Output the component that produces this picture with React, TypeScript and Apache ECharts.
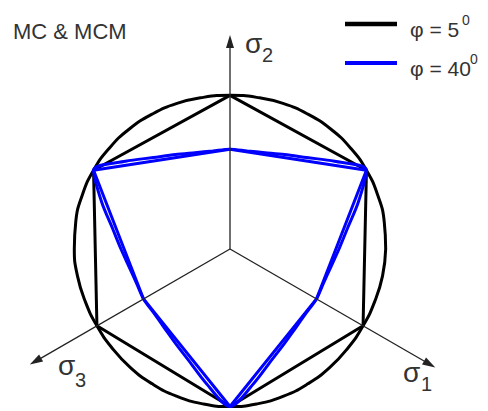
import React, { useEffect, useRef } from "react";
import * as echarts from "echarts";

const FONT = '"Liberation Sans", Arial, Helvetica, sans-serif';
const TEXT_COLOR = "#333";

// Yield-surface vertices in the deviatoric plane (angle in degrees, CCW from east)
const vertexAngles = [90, 150, 210, 270, 330, 30, 90];
const mc5Radii = [0.985, 1.01, 0.985, 1.01, 0.985, 1.01, 0.985];
const mc40Radii = [0.64, 1.01, 0.64, 1.01, 0.64, 1.01, 0.64];

// Smooth (MCM) surfaces sampled every 10 degrees
const mcmAngles = [
  0, 10, 20, 30, 40, 50, 60, 70, 80, 90, 100, 110, 120, 130, 140, 150, 160, 170,
  180, 190, 200, 210, 220, 230, 240, 250, 260, 270, 280, 290, 300, 310, 320, 330,
  340, 350, 360,
];
const mcm5Radii = [
  0.998, 1.004, 1.008, 1.01, 1.008, 1.004, 0.998, 0.993, 0.987, 0.985, 0.987,
  0.993, 0.998, 1.004, 1.008, 1.01, 1.008, 1.004, 0.998, 0.993, 0.987, 0.985,
  0.987, 0.993, 0.998, 1.004, 1.008, 1.01, 1.008, 1.004, 0.998, 0.993, 0.987,
  0.985, 0.987, 0.993, 0.998,
];
const mcm40Radii = [
  0.699, 0.765, 0.875, 1.01, 0.875, 0.765, 0.699, 0.657, 0.638, 0.64, 0.638,
  0.657, 0.699, 0.765, 0.875, 1.01, 0.875, 0.765, 0.699, 0.657, 0.638, 0.64,
  0.638, 0.657, 0.699, 0.765, 0.875, 1.01, 0.875, 0.765, 0.699, 0.657, 0.638,
  0.64, 0.638, 0.657, 0.699,
];

// Principal stress axes: direction and length
const axisAngles = [330, 90, 210];
const axisLengths = [1.478, 1.33, 1.44];
const axisSubscripts = ["1", "2", "3"];

const legendNames = ["φ = 5", "φ = 40"];
const legendColors = ["#000000", "#0000ff"];

const toPolar = (radii: number[], angles: number[]) =>
  radii.map((r, i) => [r, angles[i]]);

// place text by its alphabetic baseline
const txt = (
  text: string,
  x: number,
  baseline: number,
  size: number,
  color = TEXT_COLOR
) => ({
  type: "text",
  x,
  y: baseline - 0.35 * size,
  silent: true,
  style: {
    text,
    fill: color,
    font: `${size}px ${FONT}`,
    align: "left",
    verticalAlign: "middle",
  },
});

export default function App() {
  const ref = useRef<HTMLDivElement>(null);

  useEffect(() => {
    if (!ref.current) return;
    const chart = echarts.init(ref.current, undefined, { renderer: "svg" });

    const surface = (
      name: string,
      data: number[][],
      color: string,
      smooth: number | boolean,
      z: number
    ) => ({
      type: "line",
      name,
      coordinateSystem: "polar",
      data,
      smooth,
      symbol: "none",
      clip: false,
      silent: true,
      z,
      lineStyle: { color, width: 3 },
    });

    const axisSeries = axisAngles.map((a, i) => ({
      type: "line",
      name: "σ" + axisSubscripts[i],
      coordinateSystem: "polar",
      clip: false,
      silent: true,
      z: 10,
      showSymbol: true,
      symbol: "none",
      lineStyle: { color: "#222", width: 1.3 },
      itemStyle: { color: "#222" },
      data: [
        { value: [0, a], symbol: "none" },
        {
          value: [axisLengths[i], a],
          symbol: "triangle",
          symbolSize: [8, 13],
          symbolRotate: a - 90,
        },
      ],
    }));

    const rm = 1.6;
    chart.setOption({
      animation: false,
      polar: { center: [230, 249], radius: 156 * rm },
      angleAxis: {
        type: "value",
        min: 0,
        max: 360,
        startAngle: 0,
        clockwise: false,
        axisLine: { show: false },
        axisTick: { show: false },
        axisLabel: { show: false },
        splitLine: { show: false },
      },
      radiusAxis: {
        type: "value",
        min: 0,
        max: rm,
        axisLine: { show: false },
        axisTick: { show: false },
        axisLabel: { show: false },
        splitLine: { show: false },
      },
      series: [
        surface(legendNames[0], toPolar(mcm5Radii, mcmAngles), legendColors[0], 0.5, 2),
        surface(legendNames[0], toPolar(mc5Radii, vertexAngles), legendColors[0], false, 2),
        surface(legendNames[1], toPolar(mc40Radii, vertexAngles), legendColors[1], false, 3),
        surface(legendNames[1], toPolar(mcm40Radii, mcmAngles), legendColors[1], 0.3, 3),
        ...axisSeries,
      ],
      graphic: [
        txt("MC & MCM", 13, 39, 22),
        // axis labels
        txt("σ", 245, 53, 28),
        txt("2", 262, 62, 20),
        txt("σ", 403, 382, 28),
        txt("1", 421, 391, 20),
        txt("σ", 58, 375, 28),
        txt("3", 75, 387, 20),
        // legend
        {
          type: "line",
          silent: true,
          shape: { x1: 345, y1: 24, x2: 397, y2: 24 },
          style: { stroke: legendColors[0], lineWidth: 4.5 },
        },
        txt(legendNames[0], 410, 37, 21),
        txt("0", 462, 25, 14),
        {
          type: "line",
          silent: true,
          shape: { x1: 345, y1: 63, x2: 397, y2: 63 },
          style: { stroke: legendColors[1], lineWidth: 4 },
        },
        txt(legendNames[1], 410, 76, 21),
        txt("0", 470, 64, 14),
      ],
    });

    return () => chart.dispose();
  }, []);

  return (
    <div
      ref={ref}
      style={{ position: "fixed", left: 0, top: 0, width: 488, height: 411, background: "#fff" }}
    />
  );
}
